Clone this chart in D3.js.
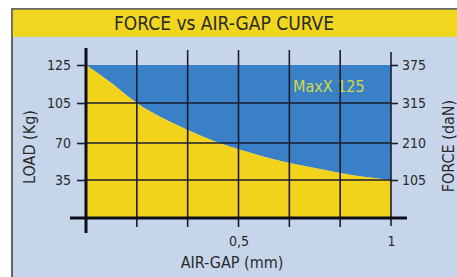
<!DOCTYPE html>
<html>
<head>
<meta charset="utf-8">
<script src="https://cdn.jsdelivr.net/npm/d3@7"></script>
<style>
  body { margin: 0; background: #fff; }
  svg { display: block; }
  text { font-family: "DejaVu Sans Condensed", "Liberation Sans Narrow", sans-serif; fill: #2a2a2a; }
</style>
</head>
<body>
<div id="chart"></div>
<script>
// data
var gap = [0, 1/12, 2/12, 3/12, 4/12, 5/12, 6/12, 7/12, 8/12, 9/12, 10/12, 11/12, 1];
var load = [125, 115.5, 105, 92, 81.4, 72, 64, 57, 51, 46.4, 41.6, 37.8, 35];

var loadTicks = [35, 70, 105, 125];
var forceTicks = [105, 210, 315, 375];
var gapGrid = [0, 1/6, 2/6, 3/6, 4/6, 5/6, 1];
var gapLabels = {"0.5": "0,5", "1": "1"};

var svgWidth = 457;
var svgHeight = 277;

var svg = d3.select('#chart')
  .append('svg')
  .attr("width", svgWidth)
  .attr("height", svgHeight);

// frame
svg.append("rect")
  .attr("x", 12).attr("y", 9)
  .attr("width", 470).attr("height", 290)
  .attr("fill", "#c6d5ea")
  .attr("stroke", "#3a3a3a")
  .attr("stroke-width", 1.5);

svg.append("rect")
  .attr("x", 12.75).attr("y", 9.75)
  .attr("width", 470).attr("height", 27)
  .attr("fill", "#f1d61f");

svg.append("text")
  .attr("x", 224).attr("y", 30)
  .attr("text-anchor", "middle")
  .style("font-size", "19px")
  .text("FORCE vs AIR-GAP CURVE");

var x = d3.scaleLinear().domain([0, 1]).range([86, 391]);
// gridlines are evenly spaced although the values are not
var yLoad = d3.scaleLinear().domain([0, 35, 70, 105, 125]).range([218, 180, 143, 103, 65]);
var yForce = d3.scaleLinear().domain([0, 105, 210, 315, 375]).range([218, 180, 143, 103, 65]);

var pts = gap.map(function(g, i) { return [g, load[i]]; });

// blue area above curve
svg.append("path")
  .datum(pts)
  .attr("fill", "#3a80c6")
  .attr("d", d3.area()
    .x(function(d) { return x(d[0]); })
    .y0(yLoad(125))
    .y1(function(d) { return yLoad(d[1]); })
    .curve(d3.curveMonotoneX));

// yellow area under curve
svg.append("path")
  .datum(pts)
  .attr("fill", "#f2d31c")
  .attr("d", d3.area()
    .x(function(d) { return x(d[0]); })
    .y0(yLoad(0))
    .y1(function(d) { return yLoad(d[1]); })
    .curve(d3.curveMonotoneX));

svg.append("text")
  .attr("x", 293).attr("y", 92)
  .style("font-size", "16px")
  .style("fill", "#d0da48")
  .text("MaxX 125");

// horizontal grid
svg.append("g")
  .selectAll("line")
  .data(loadTicks.filter(function(d) { return d < 125; }))
  .enter()
  .append("line")
  .attr("x1", 86).attr("x2", 391)
  .attr("y1", function(d) { return yLoad(d); })
  .attr("y2", function(d) { return yLoad(d); })
  .attr("stroke", "#1c1c30")
  .attr("stroke-width", 1.6);

// vertical grid
svg.append("g")
  .selectAll("line")
  .data(gapGrid.slice(1, 6))
  .enter()
  .append("line")
  .attr("x1", function(d) { return x(d); })
  .attr("x2", function(d) { return x(d); })
  .attr("y1", 50).attr("y2", 227)
  .attr("stroke", "#1c1c30")
  .attr("stroke-width", 1.6);

// left axis
var leftAxis = svg.append("g")
  .attr("transform", "translate(86,0)")
  .call(d3.axisLeft(yLoad).tickValues(loadTicks).tickSize(9).tickPadding(6));
leftAxis.select(".domain").remove();
leftAxis.selectAll("line").attr("stroke", "#1c1c30").attr("stroke-width", 1.6);
leftAxis.selectAll("text").style("font-size", "14px").style("font-family", null).attr("fill", null);

// right axis
var rightAxis = svg.append("g")
  .attr("transform", "translate(391,0)")
  .call(d3.axisRight(yForce).tickValues(forceTicks).tickSize(7).tickPadding(4));
rightAxis.select(".domain").remove();
rightAxis.selectAll("line").attr("stroke", "#1c1c30").attr("stroke-width", 1.6);
rightAxis.selectAll("text").style("font-size", "14px").style("font-family", null).attr("fill", null);

svg.append("line")
  .attr("x1", 391).attr("x2", 391)
  .attr("y1", 52).attr("y2", 226)
  .attr("stroke", "#1c1c30").attr("stroke-width", 1.6);

// bottom axis labels
var bottomAxis = svg.append("g")
  .attr("transform", "translate(0,218)")
  .call(d3.axisBottom(x).tickValues([0.5, 1]).tickSize(0).tickPadding(18)
    .tickFormat(function(d) { return gapLabels[String(d)]; }));
bottomAxis.select(".domain").remove();
bottomAxis.selectAll("text").style("font-size", "14px").style("font-family", null).attr("fill", null);

// main axis lines
svg.append("line")
  .attr("x1", 70).attr("x2", 407)
  .attr("y1", yLoad(0)).attr("y2", yLoad(0))
  .attr("stroke", "#0e0e1a").attr("stroke-width", 3);
svg.append("line")
  .attr("x1", 86).attr("x2", 86)
  .attr("y1", 48).attr("y2", 233)
  .attr("stroke", "#0e0e1a").attr("stroke-width", 3);

// axis titles
svg.append("text")
  .attr("x", 232).attr("y", 268)
  .attr("text-anchor", "middle")
  .style("font-size", "16px")
  .text("AIR-GAP (mm)");

svg.append("text")
  .attr("transform", "translate(35,147) rotate(-90)")
  .attr("text-anchor", "middle")
  .style("font-size", "16px")
  .text("LOAD (Kg)");

svg.append("text")
  .attr("transform", "translate(454,146) rotate(-90)")
  .attr("text-anchor", "middle")
  .style("font-size", "16px")
  .text("FORCE (daN)");
</script>
</body>
</html>
